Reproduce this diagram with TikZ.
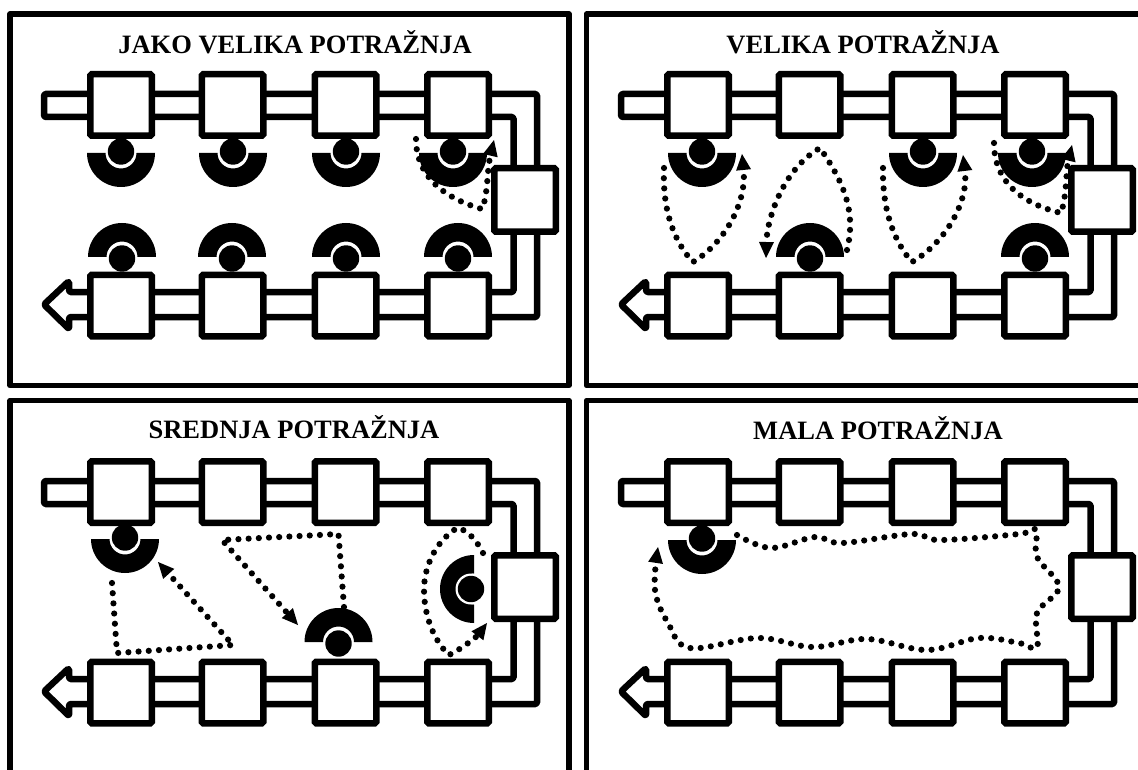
\documentclass[tikz,border=0pt]{standalone}
\usepackage{fontspec}
\setmainfont{Liberation Serif}
\usetikzlibrary{arrows.meta}
\tikzset{
  frameline/.style={draw=black,line width=5.5pt,line join=round},
  pipe/.style={draw=black,fill=white,line width=6.5pt,rounded corners=1.5pt,line join=round},
  station/.style={draw=black,fill=white,line width=6.5pt,rounded corners=1.5pt,minimum width=61.5pt,minimum height=61.5pt,inner sep=0pt},
  ctrl/.style={station,minimum height=63.5pt},
  titletext/.style={font=\fontsize{26.5}{28}\selectfont\bfseries,inner sep=0pt},
  flow/.style={draw=black,line width=6.2pt,line cap=round,dash pattern=on 0pt off 10.2pt,-{Triangle[length=16pt,width=15pt,line width=0pt,fill=black]}},
}
% operator: x, y, rotation of the half ring, shift of the head along the ring axis
\newcommand{\oper}[4]{%
  \begin{scope}[shift={(#1,#2)},x=1pt,y=1pt,rotate=#3]
    \fill[black] (-34,0) arc (180:360:34) -- (15.5,0) arc (360:180:15.5) -- cycle;
    \fill[black] (0,#4) circle (13.2);
  \end{scope}}
\newcommand{\panelbase}[1]{%
  \draw[pipe] (44,94) -- (537,94) -- (537,317) -- (69,317) -- (69,329) -- (44,304.5) -- (69,281) -- (69,292)
     -- (513.5,292) -- (513.5,117) -- (44,117) -- cycle;
  \node[ctrl] (#1c) at (525,200) {};
  \node[station] (#1t1) at (121,105) {};
  \node[station] (#1t2) at (232.5,105) {};
  \node[station] (#1t3) at (345.5,105) {};
  \node[station] (#1t4) at (458,105) {};
  \node[station] (#1b1) at (121,305.5) {};
  \node[station] (#1b2) at (232.5,305.5) {};
  \node[station] (#1b3) at (345.5,305.5) {};
  \node[station] (#1b4) at (458,305.5) {};
}
\begin{document}
\begin{tikzpicture}[x=1pt,y=-1pt]
\useasboundingbox (0,0) rectangle (1138,770);
\clip (0,0) rectangle (1138,770);
% frames
\draw[frameline] (10,14) rectangle (569,385.5);
\draw[frameline] (1150,14) -- (586.5,14) -- (586.5,385.5) -- (1150,385.5);
\draw[frameline] (10,780) -- (10,400.5) -- (569,400.5) -- (569,780);
\draw[frameline] (586.5,780) -- (586.5,400.5) -- (1150,400.5);
% titles
\node[titletext] (ti1) at (295,42) {JAKO VELIKA POTRAŽNJA};
\node[titletext] (ti2) at (863,42) {VELIKA POTRAŽNJA};
\node[titletext] (ti3) at (294,427) {SREDNJA POTRAŽNJA};
\node[titletext] (ti4) at (878,428) {MALA POTRAŽNJA};
% panel 1
\begin{scope}
  \panelbase{a}
  \oper{121}{153}{0}{1.5}\oper{233}{153}{0}{1.5}\oper{346}{153}{0}{1.5}\oper{453}{153}{0}{1.5}
  \oper{122}{257}{180}{1.5}\oper{232}{257}{180}{1.5}\oper{346}{257}{180}{1.5}\oper{458}{257}{180}{1.5}
  \coordinate (as) at (416,139); \coordinate (am) at (482,209); \coordinate (ae) at (494,140);
  \draw[flow] (as) .. controls (416,180) and (450,200) .. (am) .. controls (488,195) and (487,170) .. (ae);
\end{scope}
% panel 2
\begin{scope}[shift={(577,0)}]
  \panelbase{b}
  \oper{125}{153}{0}{1.5}\oper{346}{153}{0}{1.5}\oper{455}{153}{0}{1.5}
  \oper{233}{257}{180}{1.5}\oper{458}{257}{180}{1.5}
  \coordinate (b1s) at (87,168); \coordinate (b1m) at (116,262); \coordinate (b1e) at (165,154);
  \draw[flow] (b1s) .. controls (85,215) and (100,245) .. (b1m) .. controls (145,245) and (170,205) .. (b1e);
  \coordinate (b2s) at (270,250); \coordinate (b2m) at (243,148); \coordinate (b2e) at (189,258);
  \draw[flow] (b2s) .. controls (280,210) and (265,180) .. (b2m) .. controls (205,170) and (190,220) .. (b2e);
  \coordinate (b3s) at (306,168); \coordinate (b3m) at (335,262); \coordinate (b3e) at (386,155);
  \draw[flow] (b3s) .. controls (305,215) and (320,245) .. (b3m) .. controls (365,245) and (392,205) .. (b3e);
  \coordinate (b4s) at (417,143); \coordinate (b4m) at (484,213); \coordinate (b4e) at (495,145);
  \draw[flow] (b4s) .. controls (417,185) and (450,205) .. (b4m) .. controls (490,195) and (489,170) .. (b4e);
\end{scope}
% panel 3
\begin{scope}[shift={(0,387)}]
  \panelbase{c}
  \oper{125}{152}{0}{1.5}\oper{338.5}{255}{180}{1.5}\oper{474}{202}{-90}{-3}
  \fill[white] (471,202) circle (15.5);
  \fill[black] (471,202) circle (13.2);
  \coordinate (c1s) at (112,196); \coordinate (c1m) at (117,266); \coordinate (c1n) at (233,258); \coordinate (c1e) at (158,175);
  \draw[flow] (c1s) -- (c1m) -- (c1n) -- (c1e);
  \coordinate (c2s) at (344,220); \coordinate (c2m) at (338.5,147); \coordinate (c2n) at (222,153); \coordinate (c2e) at (298,238);
  \draw[flow] (c2s) -- (c2m) -- (c2n) -- (c2e);
  \coordinate (c3s) at (483,166); \coordinate (c3m) at (457,141); \coordinate (c3n) at (449,268); \coordinate (c3e) at (487,236);
  \draw[flow] (c3s) .. controls (475,150) and (465,142) .. (c3m) .. controls (435,155) and (424,180) .. (424,203) .. controls (424,230) and (435,255) .. (c3n) .. controls (465,260) and (478,248) .. (c3e);
\end{scope}
% panel 4
\begin{scope}[shift={(577,387)}]
  \panelbase{d}
  \oper{125}{153}{0}{1.5}
  \coordinate (ds) at (160,148); \coordinate (de) at (81,160);
  \draw[flow] plot[smooth,tension=0.6] coordinates {(ds) (194,161) (238,150) (265,156) (335,147) (363,153) (442,147) (459,143) (460,170) (482,200) (460,226) (460,260) (442,256) (402,251) (350,263) (290,252) (236,260) (181,251) (113,261) (91,236) (78,203) (de)};
\end{scope}
\end{tikzpicture}
\end{document}
